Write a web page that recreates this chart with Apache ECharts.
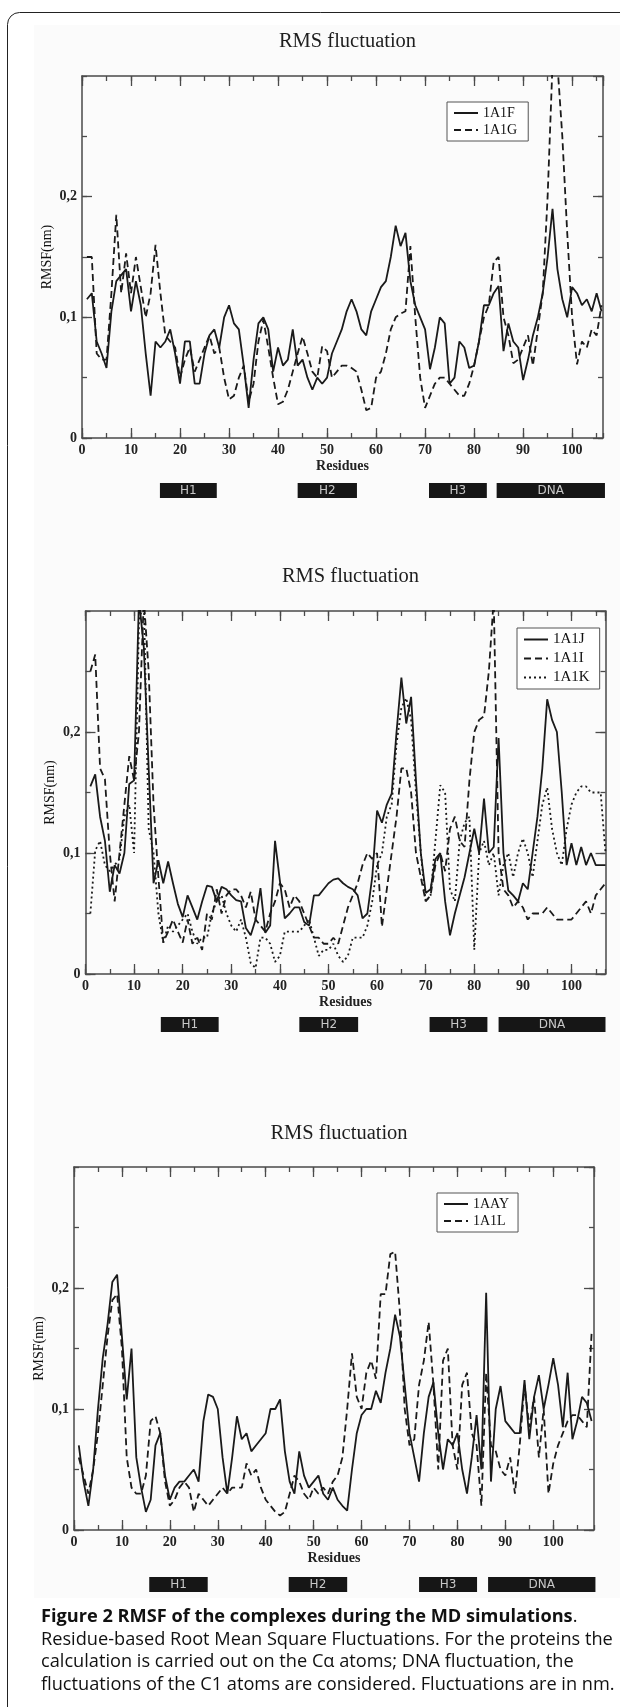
<!DOCTYPE html>
<html>
<head>
<meta charset="utf-8">
<title>RMS fluctuation</title>
<script src="https://cdn.jsdelivr.net/npm/echarts@6/dist/echarts.min.js"></script>
<style>
html, body { margin: 0; padding: 0; background: #fff; }
#main { width: 620px; height: 1707px; }
</style>
</head>
<body>
<div id="main"></div>
<script>
// RMSF per residue (nm); index 0 = residue 1
var rmsf1A1F = [0.115, 0.12, 0.08, 0.07, 0.058, 0.105, 0.13, 0.135, 0.14, 0.105,
    0.13, 0.11, 0.07, 0.035, 0.08, 0.075, 0.08, 0.09, 0.07, 0.045,
    0.08, 0.08, 0.045, 0.045, 0.07, 0.085, 0.09, 0.075, 0.1, 0.11,
    0.095, 0.09, 0.06, 0.025, 0.065, 0.095, 0.1, 0.09, 0.055, 0.075,
    0.06, 0.065, 0.09, 0.06, 0.065, 0.05, 0.04, 0.05, 0.045, 0.05,
    0.07, 0.08, 0.09, 0.105, 0.115, 0.105, 0.09, 0.085, 0.105, 0.115,
    0.125, 0.13, 0.15, 0.176, 0.159, 0.17, 0.13, 0.11, 0.1, 0.09,
    0.057, 0.075, 0.1, 0.095, 0.045, 0.05, 0.08, 0.075, 0.058, 0.06,
    0.08, 0.11, 0.11, 0.12, 0.126, 0.072, 0.095, 0.08, 0.075, 0.048,
    0.065, 0.085, 0.1, 0.12, 0.15, 0.19, 0.14, 0.115, 0.1, 0.125,
    0.12, 0.11, 0.115, 0.105, 0.12, 0.105];
var rmsf1A1G = [0.15, 0.15, 0.07, 0.065, 0.065, 0.12, 0.185, 0.12, 0.153, 0.12,
    0.15, 0.125, 0.1, 0.12, 0.16, 0.12, 0.085, 0.08, 0.075, 0.05,
    0.065, 0.075, 0.055, 0.065, 0.075, 0.085, 0.07, 0.075, 0.05, 0.032,
    0.035, 0.05, 0.06, 0.03, 0.045, 0.08, 0.098, 0.075, 0.05, 0.028,
    0.03, 0.04, 0.055, 0.07, 0.084, 0.07, 0.055, 0.05, 0.076, 0.072,
    0.05, 0.055, 0.06, 0.06, 0.058, 0.055, 0.04, 0.023, 0.025, 0.05,
    0.055, 0.07, 0.09, 0.1, 0.103, 0.105, 0.159, 0.1, 0.05, 0.025,
    0.035, 0.045, 0.05, 0.05, 0.045, 0.04, 0.035, 0.035, 0.045, 0.06,
    0.08, 0.1, 0.11, 0.146, 0.15, 0.1, 0.085, 0.062, 0.065, 0.075,
    0.085, 0.06, 0.09, 0.12, 0.2, 0.31, 0.31, 0.25, 0.17, 0.1,
    0.061, 0.08, 0.075, 0.09, 0.085, 0.11];

var rmsf1A1J = [0.155, 0.165, 0.13, 0.11, 0.068, 0.09, 0.083, 0.1, 0.157, 0.16,
    0.31, 0.27, 0.17, 0.075, 0.094, 0.075, 0.093, 0.075, 0.058, 0.047,
    0.065, 0.055, 0.045, 0.06, 0.073, 0.072, 0.06, 0.072, 0.07, 0.065,
    0.061, 0.06, 0.038, 0.032, 0.045, 0.071, 0.034, 0.04, 0.11, 0.077,
    0.046, 0.05, 0.055, 0.055, 0.043, 0.04, 0.065, 0.065, 0.07, 0.075,
    0.078, 0.079, 0.075, 0.072, 0.07, 0.065, 0.046, 0.05, 0.08, 0.135,
    0.125, 0.14, 0.149, 0.2, 0.245, 0.207, 0.229, 0.16, 0.1, 0.067,
    0.07, 0.095, 0.1, 0.06, 0.032, 0.05, 0.065, 0.08, 0.1, 0.12,
    0.1, 0.145, 0.1, 0.105, 0.195, 0.1, 0.069, 0.065, 0.06, 0.075,
    0.07, 0.1, 0.13, 0.17, 0.227, 0.21, 0.2, 0.15, 0.09, 0.108,
    0.09, 0.105, 0.09, 0.1, 0.09, 0.09, 0.09];
var rmsf1A1I = [0.25, 0.264, 0.17, 0.161, 0.1, 0.06, 0.1, 0.14, 0.18, 0.16,
    0.2, 0.31, 0.25, 0.14, 0.08, 0.026, 0.035, 0.045, 0.035, 0.026,
    0.045, 0.025, 0.03, 0.02, 0.05, 0.045, 0.07, 0.05, 0.065, 0.07,
    0.07, 0.065, 0.055, 0.068, 0.045, 0.04, 0.035, 0.05, 0.06, 0.075,
    0.07, 0.055, 0.065, 0.06, 0.05, 0.04, 0.03, 0.03, 0.025, 0.025,
    0.03, 0.025, 0.04, 0.055, 0.065, 0.075, 0.09, 0.1, 0.095, 0.1,
    0.039, 0.07, 0.1, 0.13, 0.17, 0.17, 0.15, 0.1, 0.08, 0.06,
    0.065, 0.09, 0.1, 0.085, 0.12, 0.13, 0.11, 0.105, 0.16, 0.2,
    0.21, 0.213, 0.25, 0.31, 0.1, 0.07, 0.065, 0.055, 0.06, 0.055,
    0.045, 0.05, 0.05, 0.05, 0.055, 0.05, 0.045, 0.045, 0.045, 0.045,
    0.05, 0.055, 0.06, 0.05, 0.065, 0.07, 0.075];
var rmsf1A1K = [0.05, 0.102, 0.11, 0.09, 0.085, 0.09, 0.095, 0.13, 0.14, 0.1,
    0.29, 0.31, 0.12, 0.1, 0.05, 0.026, 0.04, 0.035, 0.04, 0.045,
    0.05, 0.035, 0.025, 0.03, 0.03, 0.05, 0.06, 0.065, 0.05, 0.04,
    0.035, 0.045, 0.03, 0.009, 0.005, 0.03, 0.03, 0.025, 0.01, 0.015,
    0.035, 0.035, 0.035, 0.035, 0.04, 0.045, 0.03, 0.015, 0.02, 0.02,
    0.025, 0.015, 0.01, 0.015, 0.03, 0.03, 0.03, 0.04, 0.06, 0.09,
    0.1, 0.13, 0.14, 0.19, 0.22, 0.228, 0.21, 0.15, 0.1, 0.06,
    0.065, 0.11, 0.156, 0.15, 0.07, 0.06, 0.11, 0.125, 0.13, 0.02,
    0.1, 0.11, 0.09, 0.1, 0.065, 0.09, 0.1, 0.08, 0.1, 0.112,
    0.1, 0.08, 0.11, 0.14, 0.154, 0.12, 0.1, 0.09, 0.12, 0.14,
    0.15, 0.155, 0.155, 0.15, 0.15, 0.15, 0.1];

var rmsf1AAY = [0.07, 0.04, 0.02, 0.05, 0.1, 0.142, 0.17, 0.205, 0.211, 0.16,
    0.108, 0.15, 0.06, 0.035, 0.015, 0.025, 0.07, 0.08, 0.045, 0.025,
    0.035, 0.04, 0.04, 0.045, 0.05, 0.04, 0.09, 0.112, 0.11, 0.1,
    0.06, 0.03, 0.06, 0.094, 0.075, 0.08, 0.065, 0.07, 0.075, 0.08,
    0.1, 0.1, 0.108, 0.065, 0.04, 0.03, 0.065, 0.045, 0.035, 0.04,
    0.045, 0.03, 0.025, 0.035, 0.025, 0.02, 0.016, 0.05, 0.08, 0.095,
    0.1, 0.1, 0.115, 0.105, 0.13, 0.15, 0.178, 0.16, 0.12, 0.08,
    0.06, 0.04, 0.08, 0.11, 0.122, 0.08, 0.05, 0.075, 0.07, 0.08,
    0.05, 0.03, 0.06, 0.095, 0.05, 0.196, 0.04, 0.1, 0.119, 0.09,
    0.085, 0.08, 0.08, 0.124, 0.075, 0.11, 0.128, 0.1, 0.12, 0.142,
    0.12, 0.085, 0.13, 0.075, 0.09, 0.11, 0.105, 0.09];
var rmsf1A1L = [0.06, 0.045, 0.03, 0.05, 0.08, 0.12, 0.16, 0.19, 0.195, 0.15,
    0.06, 0.035, 0.03, 0.03, 0.045, 0.09, 0.094, 0.08, 0.04, 0.02,
    0.025, 0.035, 0.04, 0.035, 0.015, 0.03, 0.025, 0.02, 0.025, 0.03,
    0.035, 0.03, 0.035, 0.035, 0.035, 0.055, 0.045, 0.05, 0.035, 0.025,
    0.02, 0.015, 0.012, 0.015, 0.03, 0.045, 0.04, 0.03, 0.025, 0.035,
    0.03, 0.035, 0.03, 0.04, 0.045, 0.06, 0.1, 0.146, 0.11, 0.1,
    0.13, 0.14, 0.125, 0.195, 0.195, 0.228, 0.23, 0.18, 0.1, 0.07,
    0.075, 0.12, 0.14, 0.172, 0.12, 0.05, 0.14, 0.15, 0.07, 0.05,
    0.12, 0.13, 0.08, 0.07, 0.02, 0.13, 0.07, 0.065, 0.05, 0.045,
    0.06, 0.03, 0.07, 0.12, 0.085, 0.11, 0.06, 0.1, 0.03, 0.055,
    0.07, 0.08, 0.09, 0.095, 0.095, 0.09, 0.085, 0.163];

// secondary structure strips below each plot: [first residue, last residue]
var regionNames = ['H1', 'H2', 'H3', 'DNA'];
var spans1 = [[15.9, 27.5], [44, 56.1], [70.8, 82.6], [84.6, 106.7]];
var spans2 = [[15.5, 27.4], [44, 56.1], [70.8, 82.7], [85, 107]];
var spans3 = [[15.7, 27.9], [44.8, 57], [72, 84.1], [86.4, 108.8]];

var yTickLabels = ['0', '0,1', '0,2'];

var serif = '"Liberation Serif", "Times New Roman", serif';
var sans = '"Open Sans", "Noto Sans", sans-serif';
var ink = '#1a1a1a';
var axisInk = '#4a4a4a';

var panels = [
    {names: ['1A1F', '1A1G'], values: [rmsf1A1F, rmsf1A1G], dash: ['solid', [7, 4]],
     spans: spans1, xMax: 106.3, left: 82, top: 76, width: 521, height: 362,
     titleTop: 26, legendLeft: 447, legendTop: 102, legendFont: 14, legendPadR: 11, stripTop: 483},
    {names: ['1A1J', '1A1I', '1A1K'], values: [rmsf1A1J, rmsf1A1I, rmsf1A1K], dash: ['solid', [7, 4], [2, 3]],
     spans: spans2, xMax: 107, left: 85.5, top: 611, width: 520, height: 363,
     titleTop: 561, legendLeft: 517, legendTop: 628, legendFont: 15, legendPadR: 10, stripTop: 1017},
    {names: ['1AAY', '1A1L'], values: [rmsf1AAY, rmsf1A1L], dash: ['solid', [7, 4]],
     spans: spans3, xMax: 108.5, left: 74, top: 1167, width: 520, height: 363,
     titleTop: 1118, legendLeft: 437, legendTop: 1193, legendFont: 14, legendPadR: 9, stripTop: 1577}
];

var option = {
    animation: false,
    backgroundColor: '#fff',
    title: [],
    legend: [],
    grid: [],
    xAxis: [],
    yAxis: [],
    series: [],
    graphic: []
};

// plain frame axis: line + inward ticks, no labels
function tickAxis(gridIndex, pos, interval, len, max) {
    return {
        type: 'value', gridIndex: gridIndex, position: pos,
        min: 0, max: max, interval: interval,
        axisLine: {show: len > 6, onZero: false, lineStyle: {color: axisInk, width: 1.5}},
        axisTick: {show: true, inside: true, length: len, lineStyle: {color: axisInk, width: 1.3}},
        axisLabel: {show: false},
        splitLine: {show: false}
    };
}

panels.forEach(function (p, i) {
    var g = i * 2;
    var xBase = option.xAxis.length;
    var yBase = option.yAxis.length;

    option.title.push({
        text: 'RMS fluctuation',
        left: p.left + p.width / 2, top: p.titleTop, textAlign: 'center',
        textStyle: {fontFamily: serif, fontSize: 20.5, fontWeight: 'normal', color: '#1e1e1e'}
    });

    option.grid.push({left: p.left, top: p.top, width: p.width, height: p.height});
    option.grid.push({left: p.left, top: p.stripTop, width: p.width, height: 15});

    var xMain = tickAxis(g, 'bottom', 10, 10, p.xMax);
    xMain.axisLabel = {
        show: true, margin: 5, showMaxLabel: false,
        fontFamily: serif, fontSize: 14, fontWeight: 'bold', color: '#222',
        formatter: function (v) { return v % 10 === 0 ? String(v) : ''; }
    };
    xMain.name = 'Residues';
    xMain.nameLocation = 'middle';
    xMain.nameGap = 21;
    xMain.nameMoveOverlap = false;
    xMain.nameTextStyle = {fontFamily: serif, fontSize: 14, fontWeight: 'bold', color: '#222'};
    option.xAxis.push(xMain);
    option.xAxis.push(tickAxis(g, 'bottom', 5, 5, p.xMax));
    option.xAxis.push(tickAxis(g, 'top', 10, 10, p.xMax));
    option.xAxis.push(tickAxis(g, 'top', 5, 5, p.xMax));
    // hidden axis for the structure strip
    option.xAxis.push({type: 'value', gridIndex: g + 1, min: 0, max: p.xMax, show: false});

    var yMain = tickAxis(g, 'left', 0.1, 10, 0.3);
    yMain.axisLabel = {
        show: true, margin: 5, showMaxLabel: false,
        fontFamily: serif, fontSize: 14, fontWeight: 'bold', color: '#222',
        formatter: function (v) { return yTickLabels[Math.round(v * 10)] || ''; }
    };
    yMain.name = 'RMSF(nm)';
    yMain.nameLocation = 'middle';
    yMain.nameGap = 28;
    yMain.nameMoveOverlap = false;
    yMain.nameTextStyle = {fontFamily: serif, fontSize: 14, color: '#111'};
    option.yAxis.push(yMain);
    option.yAxis.push(tickAxis(g, 'left', 0.05, 5, 0.3));
    option.yAxis.push(tickAxis(g, 'right', 0.1, 10, 0.3));
    option.yAxis.push(tickAxis(g, 'right', 0.05, 5, 0.3));
    option.yAxis.push({type: 'value', gridIndex: g + 1, min: 0, max: 1, show: false});

    p.names.forEach(function (name, k) {
        option.series.push({
            name: name,
            type: 'line',
            xAxisIndex: xBase, yAxisIndex: yBase,
            symbol: 'none',
            clip: true,
            lineStyle: {color: ink, width: 1.8, type: p.dash[k]},
            itemStyle: {color: ink},
            data: p.values[k].map(function (v, j) { return [j + 1, v]; })
        });
    });

    option.legend.push({
        data: p.names,
        orient: 'vertical',
        left: p.legendLeft, top: p.legendTop,
        padding: [4, p.legendPadR, 4, 6],
        itemWidth: 24, itemHeight: p.legendFont - 2, itemGap: p.legendFont === 15 ? 4 : 3,
        borderColor: '#555', borderWidth: 1, backgroundColor: '#fff',
        itemStyle: {opacity: 0},
        textStyle: {fontFamily: serif, fontSize: p.legendFont, color: '#111'},
        selectedMode: false
    });

    option.series.push({
        type: 'custom',
        xAxisIndex: xBase + 4, yAxisIndex: yBase + 4,
        data: p.spans,
        renderItem: function (params, api) {
            var a = api.coord([api.value(0), 0]);
            var b = api.coord([api.value(1), 0]);
            var cs = params.coordSys;
            return {
                type: 'group',
                children: [{
                    type: 'rect',
                    shape: {x: a[0], y: cs.y, width: b[0] - a[0], height: cs.height},
                    style: {fill: '#161616'}
                }, {
                    type: 'text',
                    x: (a[0] + b[0]) / 2, y: cs.y + cs.height / 2,
                    style: {
                        text: regionNames[params.dataIndex],
                        fill: '#c8c8c8', align: 'center', verticalAlign: 'middle',
                        font: '12px "DejaVu Sans", sans-serif'
                    }
                }]
            };
        }
    });
});

// frame and faint figure background
option.graphic.push({
    type: 'rect', z: -10, silent: true,
    shape: {x: 34, y: 25, width: 586, height: 1573},
    style: {fill: '#fbfbfb'}
});
option.graphic.push({
    type: 'rect', z: 100, silent: true,
    shape: {x: 7.5, y: 12.5, width: 700, height: 1800, r: [12, 0, 0, 0]},
    style: {fill: 'none', stroke: '#222', lineWidth: 1}
});

// caption
option.graphic.push({
    type: 'text', left: 41, top: 1606, z: 100,
    style: {
        text: '{b|Figure 2 RMSF of the complexes during the MD simulations}.\n' +
            'Residue-based Root Mean Square Fluctuations. For the proteins the\n' +
            'calculation is carried out on the C\u03b1 atoms; DNA fluctuation, the\n' +
            'fluctuations of the C1 atoms are considered. Fluctuations are in nm.',
        fill: '#111',
        fontFamily: sans, fontSize: 18.2, lineHeight: 22.5,
        rich: {
            b: {fontFamily: sans, fontSize: 18.2, fontWeight: 'bold', lineHeight: 22.5, fill: '#111'}
        }
    }
});

var myChart = echarts.init(document.getElementById('main'));
myChart.setOption(option);
</script>
</body>
</html>
